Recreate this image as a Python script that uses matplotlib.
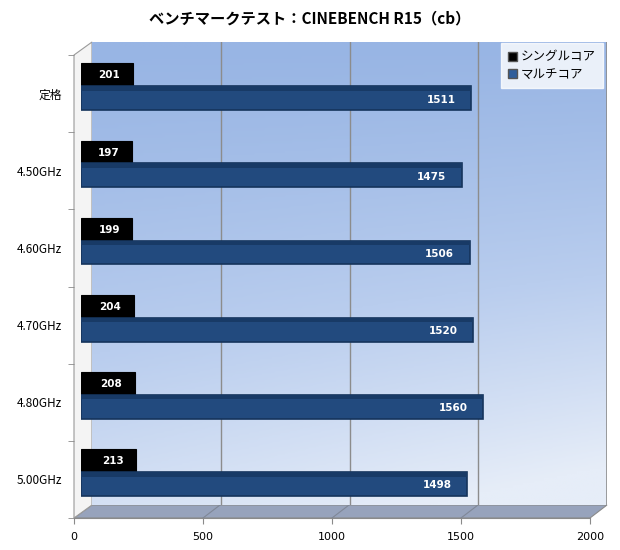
import matplotlib
matplotlib.use("Agg")
import matplotlib.pyplot as plt
import numpy as np
from matplotlib.patches import Polygon, Patch
from matplotlib.colors import LinearSegmentedColormap

plt.rcParams['font.family'] = ['Noto Sans CJK JP', 'DejaVu Sans']

# ---- data ----
categories = ["定格", "4.50GHz", "4.60GHz", "4.70GHz", "4.80GHz", "5.00GHz"]
single_core = [201, 197, 199, 204, 208, 213]
multi_core = [1511, 1475, 1506, 1520, 1560, 1498]
series_names = ["シングルコア", "マルチコア"]
x_ticks = [0, 500, 1000, 1500, 2000]
title = "ベンチマークテスト：CINEBENCH R15（cb）"

W, H = 620, 550
fig = plt.figure(figsize=(W / 100, H / 100), dpi=100)
fig.patch.set_facecolor("white")


def box(x0, y0, x1, y1):
    """pixel box (top-left origin) -> figure fraction rect"""
    return [x0 / W, 1 - y1 / H, (x1 - x0) / W, (y1 - y0) / H]


def P(x, y):
    return (x / W, 1 - y / H)


n = len(categories)
xmax = 2000

# ---- back wall ----
axb = fig.add_axes(box(92, 42, 607, 505))
axb.set_xlim(0, xmax)
yy, xx = np.mgrid[0:1:200j, 0:1:200j]
t = np.clip(0.80 * yy ** 1.2 + 0.30 * xx * yy, 0, 1)
cmap = LinearSegmentedColormap.from_list("wall", ["#98b5e4", "#b9cdee", "#e6edf8"])
axb.imshow(t, cmap=cmap, extent=[0, xmax, 1, 0], aspect="auto", origin="upper", zorder=0)
axb.set_ylim(1, 0)
for v in x_ticks[1:-1]:
    axb.axvline(v, color="#8c8c8c", lw=1.0, zorder=1)
axb.axvline(xmax, color="#8c8c8c", lw=1.2, zorder=1)
axb.set_xticks([])
axb.set_yticks([])
for s in axb.spines.values():
    s.set_visible(False)

# ---- floor & left wall (decorative, behind axes) ----
floor = Polygon([P(74, 518), P(590, 518), P(607, 505), P(92, 505)],
                closed=True, transform=fig.transFigure, facecolor="#97a3bc",
                edgecolor="#8a8a8a", lw=0.8, zorder=-2)
fig.patches.append(floor)
for k in range(1, 4):
    fx = 74 + 129 * k
    ln = plt.Line2D([fx / W, (fx + 17) / W], [1 - 518 / H, 1 - 505 / H],
                    transform=fig.transFigure, color="#7f8797", lw=0.8, zorder=-1)
    fig.lines.append(ln)
lwall = Polygon([P(74, 55), P(92, 42), P(92, 505), P(74, 518)], closed=True,
                transform=fig.transFigure, facecolor="#f4f4f4", edgecolor="#9a9a9a",
                lw=0.8, zorder=-2)
fig.patches.append(lwall)

# ---- bars ----
axr = fig.add_axes(box(81, 48, 597, 511))
axr.patch.set_alpha(0)
axr.set_xlim(0, xmax)
axr.set_ylim(n - 0.5, -0.5)
ypos = np.arange(n)
h = 0.31
off_s, off_m = -0.145, 0.15
bs = axr.barh(ypos + off_s, single_core, height=h, color="#000000",
              edgecolor="#000000", lw=0.8, label=series_names[0], zorder=3)
bm = axr.barh(ypos + off_m, multi_core, height=h, color="#224a7e",
              edgecolor="#15345c", lw=1.2, label=series_names[1], zorder=4)
axr.barh(ypos + off_m - h / 2 + 0.03, multi_core, height=0.06, color="#183a66",
         lw=0, zorder=5)
for i in range(n):
    axr.annotate(str(single_core[i]), (single_core[i], ypos[i] + off_s),
                 xytext=(-9, 0), textcoords="offset points", ha="right", va="center",
                 color="white", fontsize=7.5, fontweight="bold", family="DejaVu Sans",
                 zorder=6)
    axr.annotate(str(multi_core[i]), (multi_core[i], ypos[i] + off_m),
                 xytext=(-11, -1), textcoords="offset points", ha="right", va="center",
                 color="white", fontsize=7.5, fontweight="bold", family="DejaVu Sans",
                 zorder=6)
axr.set_xticks([])
axr.set_yticks([])
for s in axr.spines.values():
    s.set_visible(False)

# ---- front axes (labels) ----
axf = fig.add_axes(box(74, 55, 590, 518))
axf.patch.set_alpha(0)
axf.set_xlim(0, xmax)
axf.set_ylim(n - 0.5, -0.5)
axf.set_xticks(x_ticks)
axf.set_xticklabels([str(v) for v in x_ticks], fontsize=8, family="DejaVu Sans")
axf.set_yticks(ypos)
axf.set_yticklabels(categories, fontsize=8.5)
axf.tick_params(axis="y", length=0, pad=8.5)
axf.tick_params(axis="x", length=4, color="#8a8a8a", pad=6)
axf.set_yticks(np.arange(n + 1) - 0.5, minor=True)
axf.tick_params(axis="y", which="minor", length=4, color="#8a8a8a")
for k, s in axf.spines.items():
    s.set_visible(k == "bottom")
axf.spines["bottom"].set_color("#8a8a8a")

# ---- legend ----
leg = fig.legend(handles=[Patch(facecolor="#000000", edgecolor="#555555"),
                          Patch(facecolor="#2f5d9a", edgecolor="#555555")],
                 labels=series_names, loc="upper right",
                 bbox_to_anchor=(603 / W, 1 - 43 / H), fontsize=9, frameon=True,
                 fancybox=False, handlelength=0.7, handleheight=0.7,
                 handletextpad=0.3, borderpad=0.6, labelspacing=0.35,
                 borderaxespad=0)
leg.get_frame().set_edgecolor("white")
leg.get_frame().set_facecolor("white")

fig.text(0.5, 1 - 18 / H, title, ha="center", va="center", fontsize=11,
         fontweight="bold")

fig.savefig("out.png", dpi=100)
